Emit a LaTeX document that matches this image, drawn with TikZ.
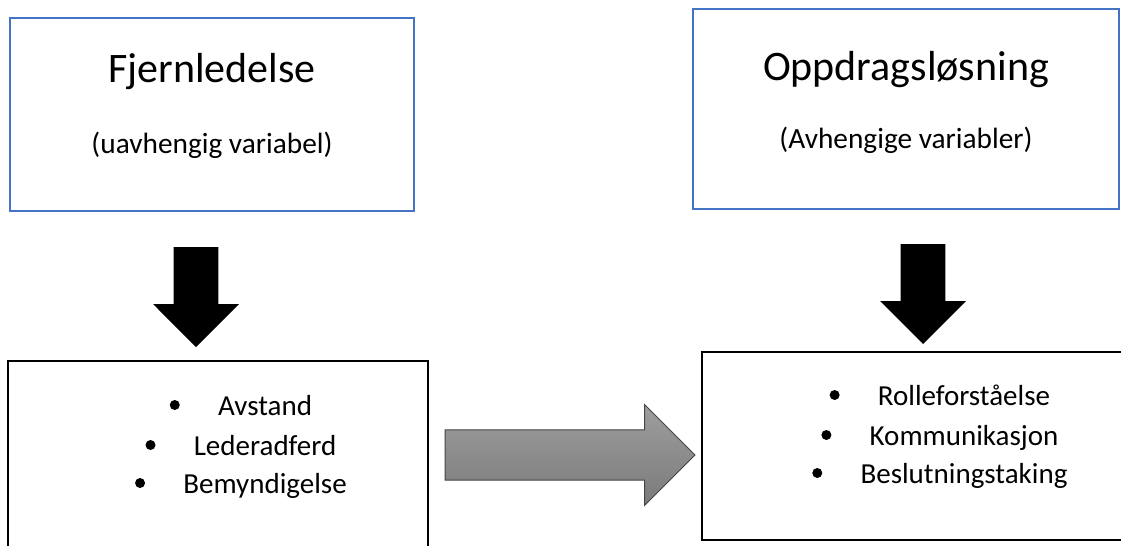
\documentclass[tikz,border=0pt]{standalone}
\usepackage{fontspec}
\setmainfont{Carlito}
\usepackage{xcolor}
\usepackage{tikz}
\usetikzlibrary{shapes.arrows,positioning,calc}
\definecolor{BoxBlue}{HTML}{4472C4}
\definecolor{ArrowEdge}{HTML}{454545}
\tikzset{
  topbox/.style={draw=BoxBlue,line width=1.5pt,inner sep=0pt,outer sep=0pt,fill=white},
  listbox/.style={draw=black,line width=1.5pt,inner sep=0pt,outer sep=0pt,fill=white},
  titletext/.style={anchor=base,inner sep=0pt,font=\fontsize{31.5}{36}\selectfont},
  subtext/.style={anchor=base,inner sep=0pt,font=\fontsize{22}{26}\selectfont},
  itemtext/.style={anchor=base,inner sep=0pt,font=\fontsize{21.75}{26}\selectfont},
  itemdot/.style={circle,fill=black,inner sep=0pt,minimum size=7.5pt},
  downarrow/.style={single arrow,fill=black,draw=none,rotate=-90,anchor=tail,inner xsep=0pt,inner ysep=16.5pt,
    outer sep=0pt,minimum height=75pt,single arrow head extend=15.4pt},
  grayarrow/.style={single arrow,draw=ArrowEdge,line width=0.75pt,top color=black!38,bottom color=black!52,
    anchor=tail,inner xsep=0pt,inner ysep=18.4pt,outer sep=0pt,minimum height=187.5pt,single arrow head extend=19.1pt}
}

\begin{document}
\begin{tikzpicture}[x=0.75pt,y=-0.75pt]
\clip (0,0) rectangle (1121,546);
\fill[white] (0,0) rectangle (1121,546);

% boxes
\node[topbox,minimum width=303pt,minimum height=144.75pt] (fjern) at (212,114.5) {};
\node[topbox,minimum width=319.5pt,minimum height=150pt] (oppdrag) at (906,109) {};
\node[listbox,minimum width=315pt,minimum height=156.75pt] (fjlist) at (218,465.5) {};
\node[listbox,minimum width=324.75pt,minimum height=141pt] (oplist) at (918.5,446) {};

% titles
\node[titletext] (fjtitle) at (212,82) {Fjernledelse};
\node[subtext] (fjsub) at (212,153) {(uavhengig variabel)};
\node[titletext] (optitle) at (906,80) {Oppdragsløsning};
\node[subtext] (opsub) at (906,148) {(Avhengige variabler)};

% lists
\node[itemtext] (avst) at (265,415) {Avstand};
\node[itemtext] (leder) at (265,455) {Lederadferd};
\node[itemtext] (bemyn) at (265,493) {Bemyndigelse};
\node[itemtext] (rolle) at (964,405) {Rolleforståelse};
\node[itemtext] (komm) at (964,445) {Kommunikasjon};
\node[itemtext] (beslut) at (964,483) {Beslutningstaking};
\foreach \n in {avst,leder,bemyn,rolle,komm,beslut}
  \node[itemdot] (dot-\n) at ($(\n.base west)+(-43,-10)$) {};

% arrows
\node[downarrow] (fjdown) at (196,247) {};
\node[downarrow] (opdown) at (923,244) {};
\node[grayarrow] (effect) at (445,455) {};
\end{tikzpicture}
\end{document}
